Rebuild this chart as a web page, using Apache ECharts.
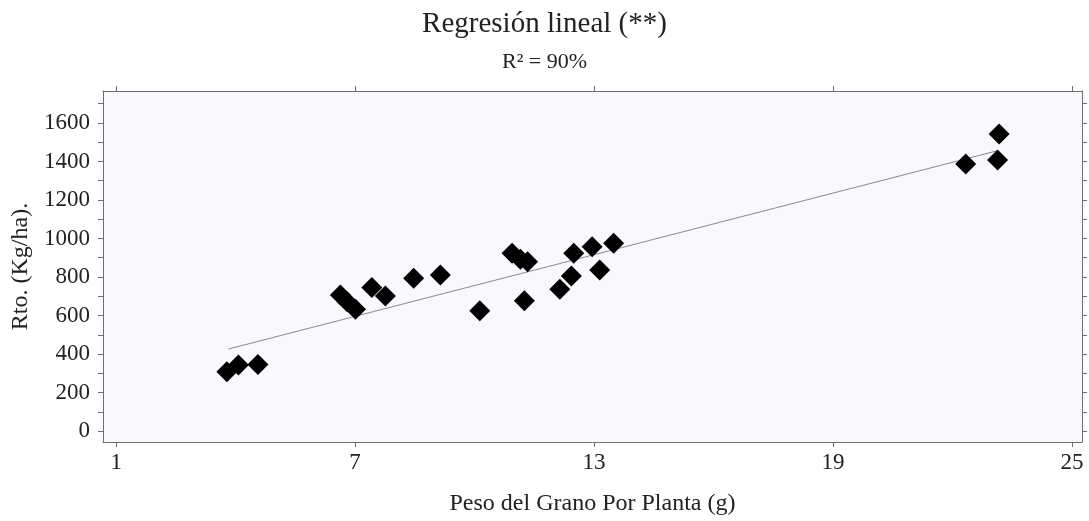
<!DOCTYPE html>
<html lang="es">

<head>
    <meta charset="UTF-8">
    <title>Regresión lineal</title>
    <style>
        html, body { margin: 0; padding: 0; background: #fff; }
        #chart { width: 1089px; height: 521px; }
    </style>
</head>

<body>
    <div id="chart"></div>
    <script src="https://cdn.jsdelivr.net/npm/echarts@6/dist/echarts.min.js"></script>
    <script>
        const pesoGrano = [3.78, 4.07, 4.56, 6.63, 6.80, 7.01, 7.42, 7.76, 8.47, 9.14, 10.13, 10.94,
            11.15, 11.33, 11.25, 12.14, 12.43, 12.49, 12.95, 13.14, 13.49, 22.33, 23.17, 23.13]
        const rendimiento = [308, 343, 346, 706, 672, 632, 746, 701, 793, 810, 625, 923,
            892, 879, 677, 736, 805, 923, 957, 836, 975, 1387, 1543, 1408]

        // recta ajustada, extremos
        const ajusteX = [3.82, 23.13]
        const ajusteY = [426, 1456]

        const xTicks = [1, 7, 13, 19, 25]
        const yTicks = [0, 200, 400, 600, 800, 1000, 1200, 1400, 1600]
        const yMinor = [0, 100, 200, 300, 400, 500, 600, 700, 800, 900, 1000, 1100, 1200, 1300, 1400, 1500, 1600, 1700]

        const puntos = pesoGrano.map((x, i) => [x, rendimiento[i]])
        const recta = ajusteX.map((x, i) => [x, ajusteY[i]])

        const fuente = '"Liberation Serif", "DejaVu Serif", serif'
        const gris = '#6e6e6e'

        const chart = echarts.init(document.getElementById('chart'))

        const xBase = {
            type: 'value',
            min: 0.67,
            max: 25.25,
            axisLine: { show: true, onZero: false, lineStyle: { color: gris, width: 1 } },
            splitLine: { show: false },
        }
        const yBase = {
            type: 'value',
            min: -57,
            max: 1766,
            axisLine: { show: true, onZero: false, lineStyle: { color: gris, width: 1 } },
            splitLine: { show: false },
        }

        chart.setOption({
            animation: false,
            textStyle: { fontFamily: fuente },
            title: [{
                text: 'Regresión lineal (**)',
                left: 'center',
                top: 5,
                textStyle: { fontFamily: fuente, fontSize: 29, fontWeight: 'normal', color: '#222' }
            }, {
                text: 'R² = 90%',
                left: 'center',
                top: 46,
                textStyle: { fontFamily: fuente, fontSize: 22, fontWeight: 'normal', color: '#222' }
            }],
            grid: {
                left: 103,
                right: 7,
                top: 91,
                bottom: 79,
                show: true,
                backgroundColor: '#f8f8fd',
                borderWidth: 0
            },
            xAxis: [Object.assign({}, xBase, {
                position: 'bottom',
                name: 'Peso del Grano Por Planta (g)',
                nameLocation: 'middle',
                nameGap: 50,
                nameTextStyle: { fontFamily: fuente, fontSize: 24, color: '#222' },
                axisTick: { show: true, length: 5, customValues: xTicks, lineStyle: { color: gris } },
                axisLabel: { customValues: xTicks, fontFamily: fuente, fontSize: 23, color: '#222', margin: 9 }
            }), Object.assign({}, xBase, {
                position: 'top',
                axisTick: { show: true, length: 5, customValues: xTicks, lineStyle: { color: gris } },
                axisLabel: { show: false }
            })],
            yAxis: [Object.assign({}, yBase, {
                position: 'left',
                name: 'Rto. (Kg/ha).',
                nameLocation: 'middle',
                nameGap: 66,
                nameTextStyle: { fontFamily: fuente, fontSize: 24, color: '#222' },
                axisTick: { show: true, length: 5, customValues: yMinor, lineStyle: { color: gris } },
                axisLabel: {
                    customValues: yTicks, fontFamily: fuente, fontSize: 23, color: '#222', margin: 13,
                    formatter: v => String(v)
                }
            }), Object.assign({}, yBase, {
                position: 'right',
                axisTick: { show: true, length: 5, customValues: yMinor, lineStyle: { color: gris } },
                axisLabel: { show: false }
            })],
            series: [{
                name: 'Ajuste',
                type: 'line',
                data: recta,
                symbol: 'none',
                lineStyle: { color: '#8a8a8a', width: 1 },
                z: 2
            }, {
                name: 'Observado',
                type: 'scatter',
                data: puntos,
                symbol: 'diamond',
                symbolSize: 21,
                itemStyle: { color: '#000', opacity: 1 },
                z: 3
            }]
        })
    </script>
</body>

</html>
